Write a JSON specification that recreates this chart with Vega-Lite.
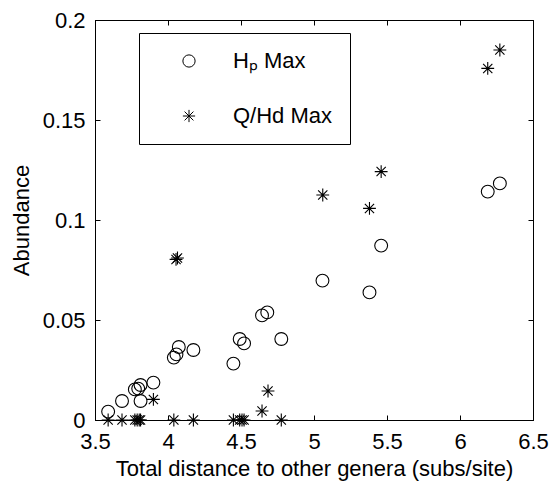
{
  "$schema": "https://vega.github.io/schema/vega-lite/v6.json",
  "autosize": {"type": "none"},
  "padding": {"left": 95, "top": 20, "right": 17, "bottom": 62},
  "width": 438,
  "height": 400,
  "background": "white",
  "config": {
    "font": "Liberation Sans",
    "view": {"stroke": "black", "strokeWidth": 1},
    "axis": {
      "grid": false,
      "domainColor": "black",
      "tickColor": "black",
      "labelColor": "black",
      "titleColor": "black",
      "labelFont": "Liberation Sans",
      "titleFont": "Liberation Sans",
      "labelFontSize": 22,
      "titleFontSize": 22,
      "titleFontWeight": "normal",
      "tickSize": -5
    }
  },
  "data": {
    "values": [
      {"x": 3.59, "y": 0.0042, "series": "Hₚ Max"},
      {"x": 3.685, "y": 0.0095, "series": "Hₚ Max"},
      {"x": 3.773, "y": 0.0153, "series": "Hₚ Max"},
      {"x": 3.796, "y": 0.0157, "series": "Hₚ Max"},
      {"x": 3.812, "y": 0.0175, "series": "Hₚ Max"},
      {"x": 3.812, "y": 0.0095, "series": "Hₚ Max"},
      {"x": 3.9, "y": 0.0187, "series": "Hₚ Max"},
      {"x": 4.04, "y": 0.0312, "series": "Hₚ Max"},
      {"x": 4.058, "y": 0.0328, "series": "Hₚ Max"},
      {"x": 4.074, "y": 0.0365, "series": "Hₚ Max"},
      {"x": 4.174, "y": 0.035, "series": "Hₚ Max"},
      {"x": 4.448, "y": 0.0282, "series": "Hₚ Max"},
      {"x": 4.491, "y": 0.0405, "series": "Hₚ Max"},
      {"x": 4.521, "y": 0.0383, "series": "Hₚ Max"},
      {"x": 4.644, "y": 0.0523, "series": "Hₚ Max"},
      {"x": 4.68, "y": 0.0538, "series": "Hₚ Max"},
      {"x": 4.776, "y": 0.0405, "series": "Hₚ Max"},
      {"x": 5.058, "y": 0.0697, "series": "Hₚ Max"},
      {"x": 5.38, "y": 0.0638, "series": "Hₚ Max"},
      {"x": 5.46, "y": 0.0872, "series": "Hₚ Max"},
      {"x": 6.19, "y": 0.1142, "series": "Hₚ Max"},
      {"x": 6.273, "y": 0.1183, "series": "Hₚ Max"},
      {"x": 3.59, "y": 0, "series": "Q/Hd Max"},
      {"x": 3.685, "y": 0, "series": "Q/Hd Max"},
      {"x": 3.773, "y": 0, "series": "Q/Hd Max"},
      {"x": 3.789, "y": 0, "series": "Q/Hd Max"},
      {"x": 3.803, "y": 0, "series": "Q/Hd Max"},
      {"x": 3.812, "y": 0, "series": "Q/Hd Max"},
      {"x": 3.9, "y": 0.0103, "series": "Q/Hd Max"},
      {"x": 4.04, "y": 0, "series": "Q/Hd Max"},
      {"x": 4.055, "y": 0.0803, "series": "Q/Hd Max"},
      {"x": 4.065, "y": 0.081, "series": "Q/Hd Max"},
      {"x": 4.174, "y": 0, "series": "Q/Hd Max"},
      {"x": 4.448, "y": 0, "series": "Q/Hd Max"},
      {"x": 4.491, "y": 0, "series": "Q/Hd Max"},
      {"x": 4.507, "y": 0, "series": "Q/Hd Max"},
      {"x": 4.521, "y": 0, "series": "Q/Hd Max"},
      {"x": 4.644, "y": 0.0045, "series": "Q/Hd Max"},
      {"x": 4.685, "y": 0.0145, "series": "Q/Hd Max"},
      {"x": 4.776, "y": 0, "series": "Q/Hd Max"},
      {"x": 5.06, "y": 0.1125, "series": "Q/Hd Max"},
      {"x": 5.38, "y": 0.1058, "series": "Q/Hd Max"},
      {"x": 5.46, "y": 0.1242, "series": "Q/Hd Max"},
      {"x": 6.19, "y": 0.1758, "series": "Q/Hd Max"},
      {"x": 6.273, "y": 0.185, "series": "Q/Hd Max"}
    ]
  },
  "layer": [
    {
      "mark": {"type": "point", "filled": false, "stroke": "black", "strokeWidth": 1.1, "size": 165, "opacity": 1},
      "encoding": {
        "x": {
          "field": "x", "type": "quantitative",
          "scale": {"domain": [3.5, 6.5], "nice": false, "zero": false},
          "axis": {
            "orient": "bottom",
            "values": [3.5, 4, 4.5, 5, 5.5, 6, 6.5],
            "format": "~g",
            "labelBaseline": "alphabetic",
            "labelPadding": 33,
            "labelFlush": false,
            "labelOverlap": false,
            "title": "Total distance to other genera (subs/site)",
            "titleBaseline": "alphabetic",
            "titleY": 55,
            "titleX": 219
          }
        },
        "y": {
          "field": "y", "type": "quantitative",
          "scale": {"domain": [0, 0.2], "nice": false},
          "axis": {
            "orient": "left",
            "values": [0, 0.05, 0.1, 0.15, 0.2],
            "format": "~g",
            "labelPadding": 15,
            "labelFlush": false,
            "labelOverlap": false,
            "title": "Abundance",
            "titleAngle": -90,
            "titleBaseline": "alphabetic",
            "titleAlign": "center",
            "titleX": -67,
            "titleY": 200
          }
        },
        "shape": {
          "field": "series", "type": "nominal",
          "scale": {
            "domain": ["Hₚ Max", "Q/Hd Max"],
            "range": ["circle", "M0,-1L0,1M-1,0L1,0M-0.72,-0.72L0.72,0.72M-0.72,0.72L0.72,-0.72"]
          },
          "legend": {
            "title": null,
            "orient": "none",
            "legendX": 44,
            "legendY": 13,
            "direction": "vertical",
            "padding": 17,
            "strokeColor": "black",
            "fillColor": "white",
            "cornerRadius": 0,
            "symbolSize": 150,
            "symbolStrokeColor": "black",
            "symbolFillColor": "transparent",
            "symbolStrokeWidth": 1,
            "symbolOffset": 22,
            "labelOffset": 33,
            "labelFontSize": 22,
            "labelFont": "Liberation Sans",
            "labelColor": "black",
            "rowPadding": 33,
            "labelLimit": 300
          }
        }
      }
    },
    {
      "mark": {"type": "point", "opacity": 0},
      "encoding": {
        "x": {
          "field": "x", "type": "quantitative",
          "axis": {"orient": "top", "values": [3.5, 4, 4.5, 5, 5.5, 6, 6.5], "labels": false, "title": null}
        },
        "y": {
          "field": "y", "type": "quantitative",
          "axis": {"orient": "right", "values": [0, 0.05, 0.1, 0.15, 0.2], "labels": false, "title": null}
        }
      }
    }
  ],
  "resolve": {"axis": {"x": "independent", "y": "independent"}}
}
